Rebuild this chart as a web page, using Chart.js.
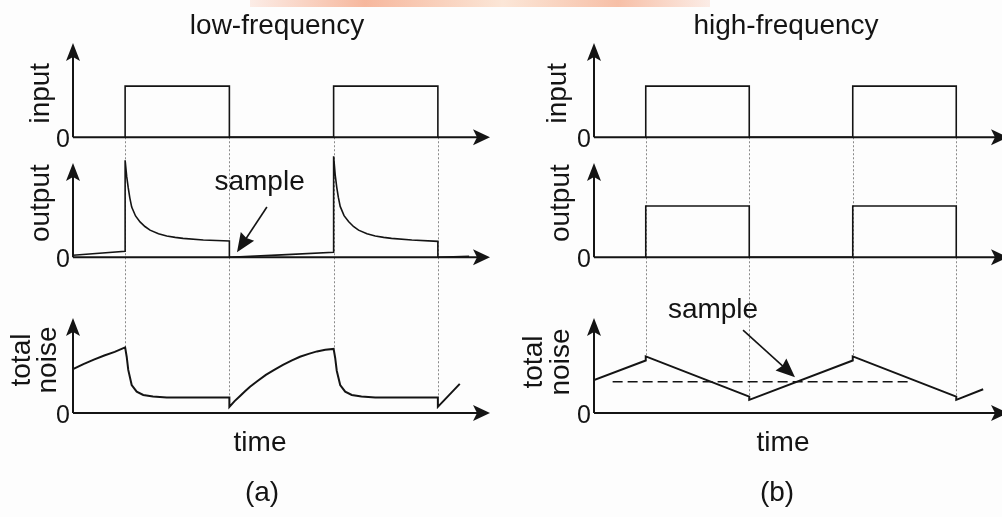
<!DOCTYPE html>
<html>
<head>
<meta charset="utf-8">
<script src="https://cdn.jsdelivr.net/npm/chart.js@4.4.0/dist/chart.umd.min.js"></script>
<style>
  html, body { margin: 0; padding: 0; width: 1002px; height: 517px; overflow: hidden; background: #fdfdfd; }
  canvas { position: absolute; top: 0; }
  #low { left: 0; }
  #high { left: 500px; }
  .smear { position: absolute; left: 250px; top: 0; width: 460px; height: 7px;
           background: linear-gradient(90deg, rgba(246,170,140,0.2), rgba(244,160,125,0.75) 25%, rgba(250,215,190,0.6) 55%, rgba(244,165,130,0.7) 80%, rgba(246,170,140,0.2)); }
</style>
</head>
<body>
<div class="smear"></div>
<canvas id="low" width="500" height="517"></canvas>
<canvas id="high" width="512" height="517"></canvas>
<script>
// text
const panelTitles = ["low-frequency", "high-frequency"];
const panelTags = ["(a)", "(b)"];
const timeLabel = "time";
const sampleLabel = "sample";
const axisNames = ["input", "output", ["total", "noise"]];

// switching instants of the input pulses
const edgeTimes = [0.5, 1.5, 2.5, 3.5];

// input (same for both)
const pulseT = [0.5, 0.5, 1.5, 1.5, 2.5, 2.5, 3.5, 3.5];
const pulseV = [0, 1, 1, 0, 0, 1, 1, 0];

// (a) low frequency
const lowOutT = [0, 0.5, 0.5, 0.515, 0.53, 0.545, 0.563, 0.6, 0.643, 0.69, 0.739, 0.82, 0.899, 0.98, 1.055, 1.25, 1.5,
                 1.5, 2.0, 2.5,
                 2.5, 2.515, 2.53, 2.545, 2.563, 2.6, 2.643, 2.69, 2.739, 2.82, 2.899, 2.98, 3.055, 3.25, 3.5,
                 3.5, 3.8];
const lowOutV = [0.06, 0.18, 2.94, 2.45, 2.1, 1.8, 1.52, 1.25, 1.07, 0.93, 0.82, 0.71, 0.64, 0.6, 0.57, 0.52, 0.49,
                 0, 0.07, 0.15,
                 3.06, 2.5, 2.12, 1.82, 1.54, 1.26, 1.08, 0.93, 0.82, 0.71, 0.64, 0.6, 0.57, 0.52, 0.48,
                 0, 0.03];
const lowNoiseT = [0, 0.1, 0.2, 0.3, 0.4, 0.5, 0.515, 0.53, 0.563, 0.611, 0.674, 0.767, 0.899, 1.5,
                   1.5, 1.55, 1.6, 1.65, 1.698, 1.77, 1.85, 1.93, 2.014, 2.1, 2.177, 2.26, 2.34, 2.42, 2.5,
                   2.515, 2.53, 2.563, 2.611, 2.674, 2.767, 2.899, 3.5,
                   3.5, 3.71];
const lowNoiseV = [1.07, 1.19, 1.3, 1.4, 1.49, 1.6, 1.37, 1.05, 0.68, 0.52, 0.44, 0.4, 0.38, 0.38,
                   0.15, 0.29, 0.41, 0.53, 0.64, 0.78, 0.93, 1.05, 1.17, 1.28, 1.37, 1.44, 1.5, 1.54, 1.56,
                   1.34, 1.03, 0.68, 0.52, 0.44, 0.4, 0.38, 0.38,
                   0.15, 0.71];

// (b) high frequency
const highOutT = [0.5, 0.5, 1.5, 1.5, 2.5, 2.5, 3.5, 3.5];
const highOutV = [0, 1.55, 1.55, 0, 0, 1.55, 1.55, 0];
const highNoiseT = [0, 0.5, 0.5, 1.5, 1.5, 2.5, 2.5, 3.5, 3.5, 3.76];
const highNoiseV = [0.8, 1.28, 1.38, 0.4, 0.32, 1.28, 1.38, 0.4, 0.32, 0.58];
const highSampleT = [0.18, 3.07];
const highSampleV = [0.76, 0.76];

const ink = "#141414";
const font = (size) => size + 'px "Liberation Sans", Arial, Helvetica, sans-serif';

function series(ts, vs) {
    return ts.map((t, i) => ({ x: t, y: vs[i] }));
}

function trace(ts, vs, axis, width, dash) {
    return {
        data: series(ts, vs),
        yAxisID: axis,
        borderColor: ink,
        borderWidth: width,
        borderDash: dash || [],
        pointRadius: 0,
        tension: 0,
        fill: false
    };
}

function arrowHead(ctx, x, y, ang, len, half, notch) {
    ctx.save();
    ctx.translate(x, y);
    ctx.rotate(ang);
    ctx.beginPath();
    ctx.moveTo(0, 0);
    ctx.lineTo(-len, -half);
    ctx.lineTo(-len + notch, 0);
    ctx.lineTo(-len, half);
    ctx.closePath();
    ctx.fill();
    ctx.restore();
}

const diagramPlugin = {
    id: "diagram",
    beforeDatasetsDraw(chart, args, opts) {
        const ctx = chart.ctx;
        const xs = chart.scales.x;
        const topScale = chart.scales.y1;
        const noiseScale = chart.scales.y3;
        const noise = chart.data.datasets[opts.guideFrom].data;
        ctx.save();
        ctx.strokeStyle = "#8a8a8a";
        ctx.lineWidth = 1;
        ctx.setLineDash([2, 2]);
        edgeTimes.forEach((t) => {
            const vals = noise.filter((p) => p.x === t).map((p) => p.y);
            const px = Math.round(xs.getPixelForValue(t)) + 0.5;
            ctx.beginPath();
            ctx.moveTo(px, topScale.getPixelForValue(0));
            ctx.lineTo(px, noiseScale.getPixelForValue(Math.max(...vals)));
            ctx.stroke();
        });
        ctx.restore();
    },
    afterDatasetsDraw(chart, args, opts) {
        const ctx = chart.ctx;
        const xs = chart.scales.x;
        const x0 = xs.getPixelForValue(0);
        const xEnd = xs.getPixelForValue(xs.max);
        ctx.save();
        ctx.fillStyle = ink;
        ctx.strokeStyle = ink;

        ["y1", "y2", "y3"].forEach((id, i) => {
            const s = chart.scales[id];
            const y0 = s.getPixelForValue(0);
            const yTop = s.top + 13;
            // axes with arrows
            ctx.lineWidth = 2;
            ctx.beginPath();
            ctx.moveTo(x0, y0);
            ctx.lineTo(xEnd - 10, y0);
            ctx.moveTo(x0, y0);
            ctx.lineTo(x0, yTop + 10);
            ctx.stroke();
            arrowHead(ctx, xEnd, y0, 0, 17, 8, 4);
            arrowHead(ctx, x0, yTop, -Math.PI / 2, 18, 7, 4);

            // zero label
            ctx.font = font(25);
            ctx.textAlign = "right";
            ctx.textBaseline = "middle";
            ctx.fillText("0", x0 - 3, y0 + 3);

            // rotated axis name
            const lines = [].concat(axisNames[i]);
            ctx.font = font(28);
            ctx.textAlign = "center";
            lines.forEach((line, k) => {
                ctx.save();
                ctx.translate(x0 + opts.nameX[i][k], y0 + opts.nameY[i]);
                ctx.rotate(-Math.PI / 2);
                ctx.fillText(line, 0, 0);
                ctx.restore();
            });
        });

        // title, time label, panel tag
        ctx.font = font(28);
        ctx.textAlign = "center";
        ctx.textBaseline = "alphabetic";
        ctx.fillText(opts.title, opts.titleX, 34);
        ctx.fillText(timeLabel, opts.timeX, 451);
        ctx.fillText(opts.tag, opts.tagX, 501);

        // "sample" pointer
        const sm = opts.sample;
        const sy = chart.scales[sm.axis];
        const px = (p) => [xs.getPixelForValue(p[0]), sy.getPixelForValue(p[1])];
        const [tx, ty] = px(sm.text);
        ctx.fillText(sampleLabel, tx, ty);
        const [ax, ay] = px(sm.tail);
        const [bx, by] = px(sm.tip);
        const ang = Math.atan2(by - ay, bx - ax);
        ctx.lineWidth = 1.6;
        ctx.beginPath();
        ctx.moveTo(ax, ay);
        ctx.lineTo(bx - 12 * Math.cos(ang), by - 12 * Math.sin(ang));
        ctx.stroke();
        arrowHead(ctx, bx, by, ang, 19, 8, 2);
        ctx.restore();
    }
};

function buildScales() {
    return {
        x: { type: "linear", min: 0, max: 4, display: false },
        y1: { type: "linear", position: "left", stack: "panels", stackWeight: 120, weight: 3, min: -0.25, max: 2.1, display: false },
        y2: { type: "linear", position: "left", stack: "panels", stackWeight: 155, weight: 2, min: -1.45, max: 3.25, display: false },
        y3: { type: "linear", position: "left", stack: "panels", stackWeight: 115, weight: 1, min: -0.17, max: 2.63, display: false }
    };
}

function makeChart(id, datasets, padding, diagram) {
    return new Chart(document.getElementById(id), {
        type: "line",
        data: { datasets: datasets },
        options: {
            responsive: false,
            animation: false,
            devicePixelRatio: 1,
            events: [],
            layout: { padding: padding },
            scales: buildScales(),
            plugins: {
                legend: { display: false },
                tooltip: { enabled: false },
                diagram: diagram
            }
        },
        plugins: [diagramPlugin]
    });
}

makeChart("low", [
    trace(pulseT, pulseV, "y1", 1.6),
    trace(lowOutT, lowOutV, "y2", 1.6),
    trace(lowNoiseT, lowNoiseV, "y3", 2)
], { left: 73, right: 10, top: 30, bottom: 97 }, {
    guideFrom: 2,
    title: panelTitles[0], titleX: 277,
    timeX: 260, tag: panelTags[0], tagX: 262,
    nameX: [[-32], [-32], [-51, -25]],
    nameY: [-44, -54, -53],
    sample: { axis: "y2", text: [1.79, 2.03], tail: [1.86, 1.52], tip: [1.573, 0.15] }
});

makeChart("high", [
    trace(pulseT, pulseV, "y1", 1.6),
    trace(highOutT, highOutV, "y2", 1.6),
    trace(highNoiseT, highNoiseV, "y3", 2),
    trace(highSampleT, highSampleV, "y3", 1.6, [10, 5])
], { left: 94, right: 4, top: 30, bottom: 97 }, {
    guideFrom: 2,
    title: panelTitles[1], titleX: 286,
    timeX: 283, tag: panelTags[1], tagX: 277,
    nameX: [[-36], [-33], [-60, -33]],
    nameY: [-44, -54, -51],
    sample: { axis: "y3", text: [1.15, 2.31], tail: [1.44, 2.02], tip: [1.942, 0.87] }
});
</script>
</body>
</html>
